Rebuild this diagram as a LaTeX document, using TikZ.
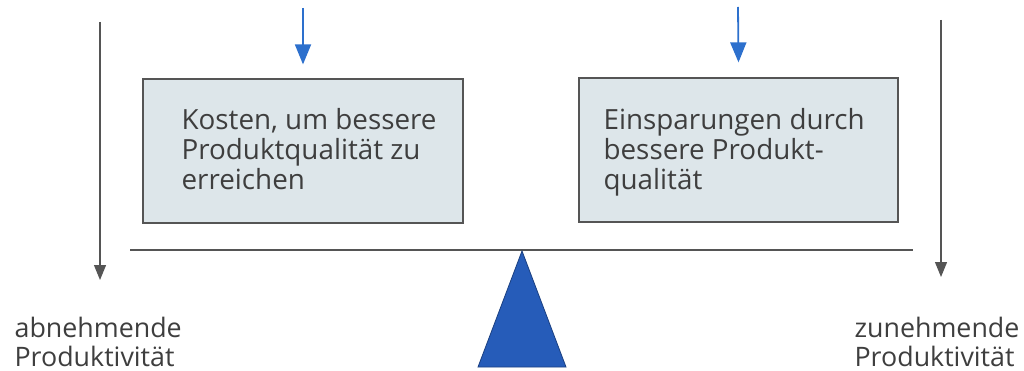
\documentclass[tikz,border=0pt]{standalone}
\usepackage{fontspec}
\setmainfont{Open Sans}
\usetikzlibrary{positioning,arrows.meta}
\definecolor{boxfill}{RGB}{221,230,234}
\definecolor{boxline}{RGB}{85,85,85}
\definecolor{pushblue}{RGB}{45,112,205}
\definecolor{fulcrumblue}{RGB}{38,92,185}
\definecolor{textgrey}{RGB}{62,62,62}

\begin{document}
\begin{tikzpicture}[x=1pt,y=-1pt,line width=1.2pt,
 weight/.style={draw=boxline,fill=boxfill,minimum width=320pt,minimum height=144pt,inner sep=0pt},
 boxtext/.style={text=textgrey,font=\fontsize{27.8}{30}\selectfont,align=left,inner sep=0pt,anchor=base west},
 sidetext/.style={boxtext,font=\fontsize{26.8}{29}\selectfont},
 push/.style={draw=pushblue,line width=1.8pt,-{Triangle[length=20pt,width=16pt]}},
 trend/.style={draw=boxline,-{Triangle[length=15pt,width=12pt]}}]

 \useasboundingbox (0,0) rectangle (1024,371);

 % the two weights
 \node[weight] (kosten) at (303,151) {};
 \node[weight,minimum width=319pt] (spar) at (738.5,150) {};
 \node[boxtext] (kostentext) at (181,190) {Kosten, um bessere\\Produktqualität zu\\erreichen};
 \node[boxtext] (spartext) at (603,190) {Einsparungen durch\\bessere Produkt-\\qualität};

 % blue pushes
 \coordinate (kostentop) at (303,8);
 \coordinate (spartop) at (738,7);
 \draw[push] (kostentop) -- ([yshift=14pt]kosten.north);
 \draw[push] (spartop) -- ([yshift=15pt]spar.north);

 % beam and fulcrum
 \coordinate (beamL) at (130,250);
 \coordinate (beamR) at (913,250);
 \draw[boxline] (beamL) -- (beamR);
 \coordinate (tip) at (522,251);
 \fill[fulcrumblue,draw=fulcrumblue!70!black,line width=0.8pt] (tip) -- (566,367) -- (478,367) -- cycle;

 % productivity
 \coordinate (abtop) at (100,22);
 \coordinate (abend) at (100,280);
 \coordinate (zutop) at (941,20);
 \coordinate (zuend) at (941,277);
 \draw[trend] (abtop) -- (abend);
 \draw[trend] (zutop) -- (zuend);
 \node[sidetext] (abnehm) at (14,366) {abnehmende\\Produktivität};
 \node[sidetext] (zunehm) at (854,366) {zunehmende\\Produktivität};

\end{tikzpicture}
\end{document}
